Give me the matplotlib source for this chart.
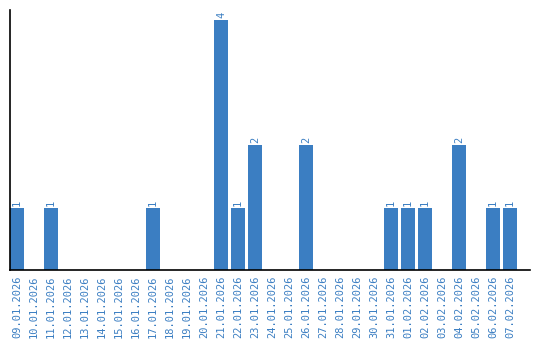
import matplotlib
matplotlib.use("Agg")
import matplotlib.pyplot as plt
import pandas as pd

dates = [d.strftime("%d.%m.%Y") for d in pd.date_range("2026-01-09", "2026-02-07")]
value_map = {
    "09.01.2026": 1, "11.01.2026": 1, "17.01.2026": 1, "21.01.2026": 4,
    "22.01.2026": 1, "23.01.2026": 2, "26.01.2026": 2, "31.01.2026": 1,
    "01.02.2026": 1, "02.02.2026": 1, "04.02.2026": 2, "06.02.2026": 1,
    "07.02.2026": 1,
}
values = [value_map.get(d, 0) for d in dates]

blue = "#3b7ec2"
fig = plt.figure(figsize=(5.4, 3.4), dpi=100)
ax = fig.add_axes([10/540, 70/340, 520/540, 260/340])
x = list(range(len(dates)))
ax.bar(x, values, width=0.82, color=blue)
for xi, v in zip(x, values):
    if v > 0:
        ax.text(xi, v + 0.03, str(v), rotation=90, ha="center", va="bottom",
                color=blue, fontsize=7.5, family="DejaVu Sans Mono")
ax.set_xlim(-0.41, 30.18)
ax.set_ylim(0, 4.16)
ax.set_xticks(x)
ax.set_xticklabels(dates, rotation=90, color=blue, fontsize=7.5, family="DejaVu Sans Mono")
ax.tick_params(axis="x", length=0, pad=4)
ax.set_yticks([])
for s in ["top", "right"]:
    ax.spines[s].set_visible(False)
ax.spines["left"].set_linewidth(1.2)
ax.spines["bottom"].set_linewidth(1.2)
fig.savefig("out.png", dpi=100)
